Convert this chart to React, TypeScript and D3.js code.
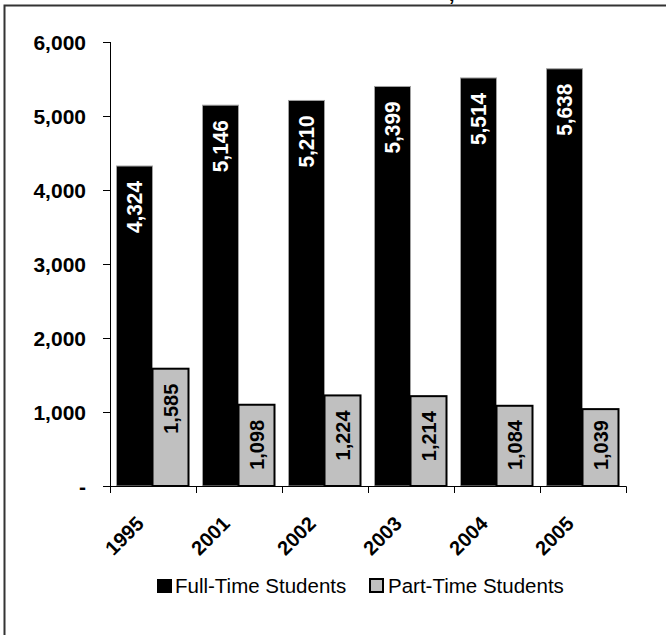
import React from "react";
import * as d3 from "d3";

const categories = ["1995", "2001", "2002", "2003", "2004", "2005"];
const fullTime = [4324, 5146, 5210, 5399, 5514, 5638];
const partTime = [1585, 1098, 1224, 1214, 1084, 1039];
const yTicks = [0, 1000, 2000, 3000, 4000, 5000, 6000];
const seriesNames = ["Full-Time Students", "Part-Time Students"];

const W = 666;
const H = 635;
const FONT = "'Liberation Sans', Arial, sans-serif";

export default function App() {
  const x = d3.scaleBand<string>().domain(categories).range([110, 626]).padding(0);
  const x1 = d3.scaleBand<string>().domain(["full", "part"]).range([6.5, 78.5]).padding(0);
  const y = d3.scaleLinear().domain([0, 6000]).range([486, 42]);
  const fmt = d3.format(",");
  const bw = x1.bandwidth();
  const labelLen = 50;

  const labelY = (v: number) => {
    const top = y(v);
    const bottom = y(0);
    return Math.min(top + 15, bottom - 16 - labelLen);
  };

  return (
    <svg
      width={W}
      height={H}
      style={{ position: "absolute", left: 0, top: 0, background: "#fff" }}
      fontFamily={FONT}
    >
      {/* outer frame */}
      <rect x={4.5} y={5.5} width={W + 20} height={H + 20} fill="none" stroke="#333" strokeWidth={2} />
      {/* clipped title fragment */}
      <text x={449} y={1} fontSize={20} fontWeight="bold" fill="#000">,</text>

      {/* bars */}
      {categories.map((c, i) => {
        const bx = x(c)!;
        const fx = bx + x1("full")!;
        const px = bx + x1("part")!;
        const fy = labelY(fullTime[i]);
        const py = labelY(partTime[i]);
        return (
          <g key={c}>
            <rect
              x={fx}
              y={y(fullTime[i])}
              width={bw}
              height={y(0) - y(fullTime[i])}
              fill="#000"
              stroke="#a0a0a0"
              strokeWidth={1}
            />
            <rect
              x={px}
              y={y(partTime[i])}
              width={bw}
              height={y(0) - y(partTime[i])}
              fill="#c0c0c0"
              stroke="#000"
              strokeWidth={2}
            />
            <text
              transform={`translate(${fx + bw / 2},${fy}) rotate(-90)`}
              textAnchor="end"
              dy="0.36em"
              fontSize={22}
              fontWeight="bold"
              textLength={52}
              lengthAdjust="spacingAndGlyphs"
              fill="#fff"
            >
              {fmt(fullTime[i])}
            </text>
            <text
              transform={`translate(${px + bw / 2},${py}) rotate(-90)`}
              textAnchor="end"
              dy="0.36em"
              fontSize={20}
              fontWeight="bold"
              fill="#000"
            >
              {fmt(partTime[i])}
            </text>
          </g>
        );
      })}

      {/* y axis */}
      <line x1={110.5} x2={110.5} y1={y(6000)} y2={y(0)} stroke="#000" strokeWidth={1} />
      {yTicks.map((t) => (
        <g key={t}>
          <line x1={103} x2={110.5} y1={Math.round(y(t)) + 0.5} y2={Math.round(y(t)) + 0.5} stroke="#000" />
          <text
            x={86}
            y={y(t)}
            dy="0.36em"
            textAnchor="end"
            fontSize={21}
            fontWeight="bold"
            fill="#000"
          >
            {t === 0 ? "-" : fmt(t)}
          </text>
        </g>
      ))}

      {/* x axis */}
      <line x1={110} x2={626.5} y1={486.5} y2={486.5} stroke="#000" />
      {[...categories.map((c) => x(c)!), 626].map((tx, i) => (
        <line key={i} x1={tx + 0.5} x2={tx + 0.5} y1={486.5} y2={493} stroke="#000" />
      ))}
      {categories.map((c) => (
        <text
          key={c}
          transform={`translate(${x(c)! + x.bandwidth() / 2 - 8},${525}) rotate(-45)`}
          textAnchor="end"
          fontSize={20}
          fontWeight="bold"
          fill="#000"
        >
          {c}
        </text>
      ))}

      {/* legend */}
      <rect x={157} y={579} width={15} height={14} fill="#000" />
      <text x={175} y={593} fontSize={20.5} fill="#000">{seriesNames[0]}</text>
      <rect x={370} y={579} width={13} height={13} fill="#c0c0c0" stroke="#000" strokeWidth={2} />
      <text x={388} y={593} fontSize={20.5} fill="#000">{seriesNames[1]}</text>
    </svg>
  );
}
